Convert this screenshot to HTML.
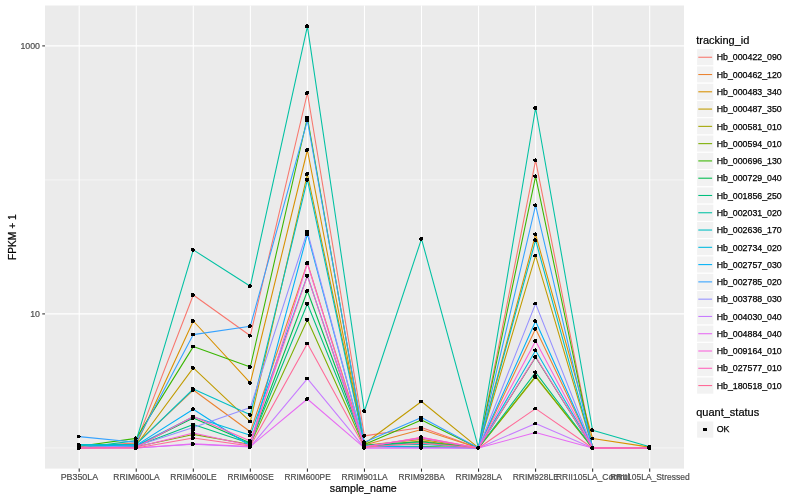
<!DOCTYPE html>
<html><head><meta charset="utf-8"><title>plot</title>
<style>html,body{margin:0;padding:0;background:#fff}svg{display:block}text{font-family:"Liberation Sans",sans-serif}</style></head><body>
<svg width="800" height="500" viewBox="0 0 800 500">
<rect x="0" y="0" width="800" height="500" fill="#fff"/>
<rect x="45" y="5.5" width="639" height="463.1" fill="#EBEBEB"/>
<line x1="45" x2="684" y1="179.9" y2="179.9" stroke="#fff" stroke-width="0.53"/>
<line x1="45" x2="684" y1="447.9" y2="447.9" stroke="#fff" stroke-width="0.53"/>
<line x1="45" x2="684" y1="45.9" y2="45.9" stroke="#fff" stroke-width="1.07"/>
<line x1="45" x2="684" y1="313.9" y2="313.9" stroke="#fff" stroke-width="1.07"/>
<line x1="79.20" x2="79.20" y1="5.5" y2="468.6" stroke="#fff" stroke-width="1.07"/>
<line x1="136.25" x2="136.25" y1="5.5" y2="468.6" stroke="#fff" stroke-width="1.07"/>
<line x1="193.30" x2="193.30" y1="5.5" y2="468.6" stroke="#fff" stroke-width="1.07"/>
<line x1="250.35" x2="250.35" y1="5.5" y2="468.6" stroke="#fff" stroke-width="1.07"/>
<line x1="307.40" x2="307.40" y1="5.5" y2="468.6" stroke="#fff" stroke-width="1.07"/>
<line x1="364.45" x2="364.45" y1="5.5" y2="468.6" stroke="#fff" stroke-width="1.07"/>
<line x1="421.50" x2="421.50" y1="5.5" y2="468.6" stroke="#fff" stroke-width="1.07"/>
<line x1="478.55" x2="478.55" y1="5.5" y2="468.6" stroke="#fff" stroke-width="1.07"/>
<line x1="535.60" x2="535.60" y1="5.5" y2="468.6" stroke="#fff" stroke-width="1.07"/>
<line x1="592.65" x2="592.65" y1="5.5" y2="468.6" stroke="#fff" stroke-width="1.07"/>
<line x1="649.70" x2="649.70" y1="5.5" y2="468.6" stroke="#fff" stroke-width="1.07"/>
<g fill="none" stroke-width="1.07" stroke-linejoin="round" stroke-linecap="butt">
<polyline points="79.2,446.8 136.2,442.9 193.3,295 250.3,335.7 307.4,93 364.4,435.9 421.5,427.5 478.5,447.95 535.6,160.3 592.6,447.95 649.7,447.95" stroke="#F8766D"/>
<polyline points="79.2,447.95 136.2,443.8 193.3,390 250.3,431.7 307.4,263 364.4,445 421.5,429.4 478.5,447.95 535.6,328.8 592.6,447.95 649.7,447.95" stroke="#EA8331"/>
<polyline points="79.2,447.95 136.2,444.8 193.3,321 250.3,382.9 307.4,150 364.4,445.3 421.5,439.4 478.5,447.95 535.6,234.4 592.6,438.5 649.7,447.1" stroke="#D89000"/>
<polyline points="79.2,447.95 136.2,445.2 193.3,367.9 250.3,421.6 307.4,174 364.4,443.8 421.5,401.5 478.5,447.95 535.6,255.6 592.6,447.95 649.7,447.95" stroke="#C09B00"/>
<polyline points="364.4,446.8 421.5,441 478.5,447.95 535.6,377 592.6,447.95 649.7,447.95" stroke="#A3A500"/>
<polyline points="79.2,447.95 136.2,446.8 193.3,434.4 250.3,444.5 307.4,319.8 364.4,446.8 421.5,446.25 478.5,447.95 535.6,376.2 592.6,447.95 649.7,447.95" stroke="#7CAE00"/>
<polyline points="79.2,446.2 136.2,438.4 193.3,346.6 250.3,367 307.4,117.5 364.4,444.4 421.5,420 478.5,447.95 535.6,176.4 592.6,447.95 649.7,447.95" stroke="#39B600"/>
<polyline points="79.2,447.95 136.2,446.3 193.3,418 250.3,443 307.4,291 364.4,445.3 421.5,441.8 478.5,447.95 535.6,357.3 592.6,447.95 649.7,447.95" stroke="#00BB4E"/>
<polyline points="79.2,447.95 136.2,446.3 193.3,424.5 250.3,443.5 307.4,303.8 364.4,445.6 421.5,442.5 478.5,447.95 535.6,372.4 592.6,447.95 649.7,447.95" stroke="#00BF7D"/>
<polyline points="79.2,447.95 136.2,440.6 193.3,249.9 250.3,286.2 307.4,26.3 364.4,411.25 421.5,238.8 478.5,447.95 535.6,108 592.6,430.25 649.7,446.8" stroke="#00C1A3"/>
<polyline points="79.2,444.6 136.2,444.4 193.3,389 250.3,414.8 307.4,179.7 364.4,445.8 421.5,444.2 478.5,447.95 535.6,240.2 592.6,447.95 649.7,447.95" stroke="#00BFC4"/>
<polyline points="79.2,445.2 136.2,445.8 193.3,416.8 250.3,435.2 307.4,275.6 364.4,446.5 421.5,447.2 478.5,447.95 535.6,350.4 592.6,447.95 649.7,447.95" stroke="#00BAE0"/>
<polyline points="79.2,447.95 136.2,445.4 193.3,409.3 250.3,446 307.4,234.1 364.4,446.2 421.5,447.0 478.5,447.95 535.6,321.2 592.6,447.95 649.7,447.95" stroke="#00B0F6"/>
<polyline points="79.2,436.6 136.2,442.2 193.3,334.6 250.3,326.2 307.4,120.3 364.4,442.3 421.5,417.5 478.5,447.95 535.6,205.4 592.6,447.95 649.7,447.95" stroke="#35A2FF"/>
<polyline points="79.2,447.2 136.2,446 193.3,427.5 250.3,407.6 307.4,231.4 364.4,446.5 421.5,438.1 478.5,447.95 535.6,303.6 592.6,447.95 649.7,447.95" stroke="#9590FF"/>
<polyline points="79.2,447.95 136.2,447.95 193.3,444.3 250.3,447 307.4,378.6 364.4,447.95 421.5,447.95 478.5,447.95 535.6,423.6 592.6,447.95 649.7,447.95" stroke="#C77CFF"/>
<polyline points="79.2,447.95 136.2,447.95 193.3,443.9 250.3,446.5 307.4,399 364.4,447.95 421.5,447.95 478.5,447.95 535.6,432.6 592.6,447.95 649.7,447.95" stroke="#E76BF3"/>
<polyline points="79.2,447.95 136.2,447.2 193.3,432.9 250.3,445.5 307.4,263.3 364.4,447 421.5,437.2 478.5,447.95 535.6,341 592.6,447.95 649.7,447.95" stroke="#FA62DB"/>
<polyline points="79.2,447.95 136.2,447.2 193.3,416.5 250.3,441 307.4,275.8 364.4,447 421.5,437.6 478.5,447.95 535.6,356.8 592.6,447.95 649.7,447.95" stroke="#FF62BC"/>
<polyline points="79.2,447.95 136.2,447.95 193.3,438 250.3,446 307.4,343.6 364.4,447.2 421.5,443.1 478.5,447.95 535.6,408.6 592.6,447.95 649.7,447.95" stroke="#FF6A98"/>
</g>
<g fill="#000" shape-rendering="crispEdges">
<circle cx="78.8" cy="446.8" r="2"/>
<circle cx="135.8" cy="442.9" r="2"/>
<circle cx="192.9" cy="295" r="2"/>
<circle cx="249.9" cy="335.7" r="2"/>
<circle cx="307.0" cy="93" r="2"/>
<circle cx="364.1" cy="435.9" r="2"/>
<circle cx="421.1" cy="427.5" r="2"/>
<circle cx="478.1" cy="447.95" r="2"/>
<circle cx="535.2" cy="160.3" r="2"/>
<circle cx="592.2" cy="447.95" r="2"/>
<circle cx="649.3" cy="447.95" r="2"/>
<circle cx="78.8" cy="447.95" r="2"/>
<circle cx="135.8" cy="443.8" r="2"/>
<circle cx="192.9" cy="390" r="2"/>
<circle cx="249.9" cy="431.7" r="2"/>
<circle cx="307.0" cy="263" r="2"/>
<circle cx="364.1" cy="445" r="2"/>
<circle cx="421.1" cy="429.4" r="2"/>
<circle cx="478.1" cy="447.95" r="2"/>
<circle cx="535.2" cy="328.8" r="2"/>
<circle cx="592.2" cy="447.95" r="2"/>
<circle cx="649.3" cy="447.95" r="2"/>
<circle cx="78.8" cy="447.95" r="2"/>
<circle cx="135.8" cy="444.8" r="2"/>
<circle cx="192.9" cy="321" r="2"/>
<circle cx="249.9" cy="382.9" r="2"/>
<circle cx="307.0" cy="150" r="2"/>
<circle cx="364.1" cy="445.3" r="2"/>
<circle cx="421.1" cy="439.4" r="2"/>
<circle cx="478.1" cy="447.95" r="2"/>
<circle cx="535.2" cy="234.4" r="2"/>
<circle cx="592.2" cy="438.5" r="2"/>
<circle cx="649.3" cy="447.1" r="2"/>
<circle cx="78.8" cy="447.95" r="2"/>
<circle cx="135.8" cy="445.2" r="2"/>
<circle cx="192.9" cy="367.9" r="2"/>
<circle cx="249.9" cy="421.6" r="2"/>
<circle cx="307.0" cy="174" r="2"/>
<circle cx="364.1" cy="443.8" r="2"/>
<circle cx="421.1" cy="401.5" r="2"/>
<circle cx="478.1" cy="447.95" r="2"/>
<circle cx="535.2" cy="255.6" r="2"/>
<circle cx="592.2" cy="447.95" r="2"/>
<circle cx="649.3" cy="447.95" r="2"/>
<circle cx="78.8" cy="447.95" r="2"/>
<circle cx="135.8" cy="446.8" r="2"/>
<circle cx="192.9" cy="434.8" r="2"/>
<circle cx="249.9" cy="445" r="2"/>
<circle cx="307.0" cy="319.8" r="2"/>
<circle cx="364.1" cy="446.8" r="2"/>
<circle cx="421.1" cy="441" r="2"/>
<circle cx="478.1" cy="447.95" r="2"/>
<circle cx="535.2" cy="377" r="2"/>
<circle cx="592.2" cy="447.95" r="2"/>
<circle cx="649.3" cy="447.95" r="2"/>
<circle cx="78.8" cy="447.95" r="2"/>
<circle cx="135.8" cy="446.8" r="2"/>
<circle cx="192.9" cy="434.4" r="2"/>
<circle cx="249.9" cy="444.5" r="2"/>
<circle cx="307.0" cy="319.8" r="2"/>
<circle cx="364.1" cy="446.8" r="2"/>
<circle cx="421.1" cy="446.25" r="2"/>
<circle cx="478.1" cy="447.95" r="2"/>
<circle cx="535.2" cy="376.2" r="2"/>
<circle cx="592.2" cy="447.95" r="2"/>
<circle cx="649.3" cy="447.95" r="2"/>
<circle cx="78.8" cy="446.2" r="2"/>
<circle cx="135.8" cy="438.4" r="2"/>
<circle cx="192.9" cy="346.6" r="2"/>
<circle cx="249.9" cy="367" r="2"/>
<circle cx="307.0" cy="117.5" r="2"/>
<circle cx="364.1" cy="444.4" r="2"/>
<circle cx="421.1" cy="420" r="2"/>
<circle cx="478.1" cy="447.95" r="2"/>
<circle cx="535.2" cy="176.4" r="2"/>
<circle cx="592.2" cy="447.95" r="2"/>
<circle cx="649.3" cy="447.95" r="2"/>
<circle cx="78.8" cy="447.95" r="2"/>
<circle cx="135.8" cy="446.3" r="2"/>
<circle cx="192.9" cy="418" r="2"/>
<circle cx="249.9" cy="443" r="2"/>
<circle cx="307.0" cy="291" r="2"/>
<circle cx="364.1" cy="445.3" r="2"/>
<circle cx="421.1" cy="441.8" r="2"/>
<circle cx="478.1" cy="447.95" r="2"/>
<circle cx="535.2" cy="357.3" r="2"/>
<circle cx="592.2" cy="447.95" r="2"/>
<circle cx="649.3" cy="447.95" r="2"/>
<circle cx="78.8" cy="447.95" r="2"/>
<circle cx="135.8" cy="446.3" r="2"/>
<circle cx="192.9" cy="424.5" r="2"/>
<circle cx="249.9" cy="443.5" r="2"/>
<circle cx="307.0" cy="303.8" r="2"/>
<circle cx="364.1" cy="445.6" r="2"/>
<circle cx="421.1" cy="442.5" r="2"/>
<circle cx="478.1" cy="447.95" r="2"/>
<circle cx="535.2" cy="372.4" r="2"/>
<circle cx="592.2" cy="447.95" r="2"/>
<circle cx="649.3" cy="447.95" r="2"/>
<circle cx="78.8" cy="447.95" r="2"/>
<circle cx="135.8" cy="440.6" r="2"/>
<circle cx="192.9" cy="249.9" r="2"/>
<circle cx="249.9" cy="286.2" r="2"/>
<circle cx="307.0" cy="26.3" r="2"/>
<circle cx="364.1" cy="411.25" r="2"/>
<circle cx="421.1" cy="238.8" r="2"/>
<circle cx="478.1" cy="447.95" r="2"/>
<circle cx="535.2" cy="108" r="2"/>
<circle cx="592.2" cy="430.25" r="2"/>
<circle cx="649.3" cy="446.8" r="2"/>
<circle cx="78.8" cy="444.6" r="2"/>
<circle cx="135.8" cy="444.4" r="2"/>
<circle cx="192.9" cy="389" r="2"/>
<circle cx="249.9" cy="414.8" r="2"/>
<circle cx="307.0" cy="179.7" r="2"/>
<circle cx="364.1" cy="445.8" r="2"/>
<circle cx="421.1" cy="444.2" r="2"/>
<circle cx="478.1" cy="447.95" r="2"/>
<circle cx="535.2" cy="240.2" r="2"/>
<circle cx="592.2" cy="447.95" r="2"/>
<circle cx="649.3" cy="447.95" r="2"/>
<circle cx="78.8" cy="445.2" r="2"/>
<circle cx="135.8" cy="445.8" r="2"/>
<circle cx="192.9" cy="416.8" r="2"/>
<circle cx="249.9" cy="435.2" r="2"/>
<circle cx="307.0" cy="275.6" r="2"/>
<circle cx="364.1" cy="446.5" r="2"/>
<circle cx="421.1" cy="447.2" r="2"/>
<circle cx="478.1" cy="447.95" r="2"/>
<circle cx="535.2" cy="350.4" r="2"/>
<circle cx="592.2" cy="447.95" r="2"/>
<circle cx="649.3" cy="447.95" r="2"/>
<circle cx="78.8" cy="447.95" r="2"/>
<circle cx="135.8" cy="445.4" r="2"/>
<circle cx="192.9" cy="409.3" r="2"/>
<circle cx="249.9" cy="446" r="2"/>
<circle cx="307.0" cy="234.1" r="2"/>
<circle cx="364.1" cy="446.2" r="2"/>
<circle cx="421.1" cy="447.0" r="2"/>
<circle cx="478.1" cy="447.95" r="2"/>
<circle cx="535.2" cy="321.2" r="2"/>
<circle cx="592.2" cy="447.95" r="2"/>
<circle cx="649.3" cy="447.95" r="2"/>
<circle cx="78.8" cy="436.6" r="2"/>
<circle cx="135.8" cy="442.2" r="2"/>
<circle cx="192.9" cy="334.6" r="2"/>
<circle cx="249.9" cy="326.2" r="2"/>
<circle cx="307.0" cy="120.3" r="2"/>
<circle cx="364.1" cy="442.3" r="2"/>
<circle cx="421.1" cy="417.5" r="2"/>
<circle cx="478.1" cy="447.95" r="2"/>
<circle cx="535.2" cy="205.4" r="2"/>
<circle cx="592.2" cy="447.95" r="2"/>
<circle cx="649.3" cy="447.95" r="2"/>
<circle cx="78.8" cy="447.2" r="2"/>
<circle cx="135.8" cy="446" r="2"/>
<circle cx="192.9" cy="427.5" r="2"/>
<circle cx="249.9" cy="407.6" r="2"/>
<circle cx="307.0" cy="231.4" r="2"/>
<circle cx="364.1" cy="446.5" r="2"/>
<circle cx="421.1" cy="438.1" r="2"/>
<circle cx="478.1" cy="447.95" r="2"/>
<circle cx="535.2" cy="303.6" r="2"/>
<circle cx="592.2" cy="447.95" r="2"/>
<circle cx="649.3" cy="447.95" r="2"/>
<circle cx="78.8" cy="447.95" r="2"/>
<circle cx="135.8" cy="447.95" r="2"/>
<circle cx="192.9" cy="444.3" r="2"/>
<circle cx="249.9" cy="447" r="2"/>
<circle cx="307.0" cy="378.6" r="2"/>
<circle cx="364.1" cy="447.95" r="2"/>
<circle cx="421.1" cy="447.95" r="2"/>
<circle cx="478.1" cy="447.95" r="2"/>
<circle cx="535.2" cy="423.6" r="2"/>
<circle cx="592.2" cy="447.95" r="2"/>
<circle cx="649.3" cy="447.95" r="2"/>
<circle cx="78.8" cy="447.95" r="2"/>
<circle cx="135.8" cy="447.95" r="2"/>
<circle cx="192.9" cy="443.9" r="2"/>
<circle cx="249.9" cy="446.5" r="2"/>
<circle cx="307.0" cy="399" r="2"/>
<circle cx="364.1" cy="447.95" r="2"/>
<circle cx="421.1" cy="447.95" r="2"/>
<circle cx="478.1" cy="447.95" r="2"/>
<circle cx="535.2" cy="432.6" r="2"/>
<circle cx="592.2" cy="447.95" r="2"/>
<circle cx="649.3" cy="447.95" r="2"/>
<circle cx="78.8" cy="447.95" r="2"/>
<circle cx="135.8" cy="447.2" r="2"/>
<circle cx="192.9" cy="432.9" r="2"/>
<circle cx="249.9" cy="445.5" r="2"/>
<circle cx="307.0" cy="263.3" r="2"/>
<circle cx="364.1" cy="447" r="2"/>
<circle cx="421.1" cy="437.2" r="2"/>
<circle cx="478.1" cy="447.95" r="2"/>
<circle cx="535.2" cy="341" r="2"/>
<circle cx="592.2" cy="447.95" r="2"/>
<circle cx="649.3" cy="447.95" r="2"/>
<circle cx="78.8" cy="447.95" r="2"/>
<circle cx="135.8" cy="447.2" r="2"/>
<circle cx="192.9" cy="416.5" r="2"/>
<circle cx="249.9" cy="441" r="2"/>
<circle cx="307.0" cy="275.8" r="2"/>
<circle cx="364.1" cy="447" r="2"/>
<circle cx="421.1" cy="437.6" r="2"/>
<circle cx="478.1" cy="447.95" r="2"/>
<circle cx="535.2" cy="356.8" r="2"/>
<circle cx="592.2" cy="447.95" r="2"/>
<circle cx="649.3" cy="447.95" r="2"/>
<circle cx="78.8" cy="447.95" r="2"/>
<circle cx="135.8" cy="447.95" r="2"/>
<circle cx="192.9" cy="438" r="2"/>
<circle cx="249.9" cy="446" r="2"/>
<circle cx="307.0" cy="343.6" r="2"/>
<circle cx="364.1" cy="447.2" r="2"/>
<circle cx="421.1" cy="443.1" r="2"/>
<circle cx="478.1" cy="447.95" r="2"/>
<circle cx="535.2" cy="408.6" r="2"/>
<circle cx="592.2" cy="447.95" r="2"/>
<circle cx="649.3" cy="447.95" r="2"/>
<circle cx="192.9" cy="430.3" r="2"/>
</g>
<g stroke="#333" stroke-width="1.07">
<line x1="79.20" x2="79.20" y1="468.6" y2="471.70000000000005"/>
<line x1="136.25" x2="136.25" y1="468.6" y2="471.70000000000005"/>
<line x1="193.30" x2="193.30" y1="468.6" y2="471.70000000000005"/>
<line x1="250.35" x2="250.35" y1="468.6" y2="471.70000000000005"/>
<line x1="307.40" x2="307.40" y1="468.6" y2="471.70000000000005"/>
<line x1="364.45" x2="364.45" y1="468.6" y2="471.70000000000005"/>
<line x1="421.50" x2="421.50" y1="468.6" y2="471.70000000000005"/>
<line x1="478.55" x2="478.55" y1="468.6" y2="471.70000000000005"/>
<line x1="535.60" x2="535.60" y1="468.6" y2="471.70000000000005"/>
<line x1="592.65" x2="592.65" y1="468.6" y2="471.70000000000005"/>
<line x1="649.70" x2="649.70" y1="468.6" y2="471.70000000000005"/>
<line x1="42.25" x2="45" y1="45.9" y2="45.9"/>
<line x1="42.25" x2="45" y1="313.9" y2="313.9"/>
</g>
<g font-size="8.8" fill="#4D4D4D" stroke="#4D4D4D" stroke-width="0.2">
<text x="60.65" y="480.4" textLength="37.5" lengthAdjust="spacingAndGlyphs">PB350LA</text>
<text x="113.30" y="480.4" textLength="46.3" lengthAdjust="spacingAndGlyphs">RRIM600LA</text>
<text x="170.35" y="480.4" textLength="46.3" lengthAdjust="spacingAndGlyphs">RRIM600LE</text>
<text x="227.40" y="480.4" textLength="46.3" lengthAdjust="spacingAndGlyphs">RRIM600SE</text>
<text x="284.45" y="480.4" textLength="46.3" lengthAdjust="spacingAndGlyphs">RRIM600PE</text>
<text x="341.50" y="480.4" textLength="46.3" lengthAdjust="spacingAndGlyphs">RRIM901LA</text>
<text x="398.55" y="480.4" textLength="46.3" lengthAdjust="spacingAndGlyphs">RRIM928BA</text>
<text x="455.60" y="480.4" textLength="46.3" lengthAdjust="spacingAndGlyphs">RRIM928LA</text>
<text x="512.65" y="480.4" textLength="46.3" lengthAdjust="spacingAndGlyphs">RRIM928LE</text>
<text x="555.95" y="480.4" textLength="73.8" lengthAdjust="spacingAndGlyphs">RRII105LA_Control</text>
<text x="610.20" y="480.4" textLength="79.4" lengthAdjust="spacingAndGlyphs">RRII105LA_Stressed</text>
<text x="40" y="49.1" text-anchor="end">1000</text>
<text x="40" y="317.1" text-anchor="end">10</text>
</g>
<g font-size="11" fill="#000" stroke="#000" stroke-width="0.2">
<text transform="translate(363.3,491.6) scale(0.97,1)" text-anchor="middle">sample_name</text>
<text transform="translate(16,237.2) rotate(-90) scale(0.927,1)" text-anchor="middle">FPKM + 1</text>
<text x="696.2" y="44">tracking_id</text>
<text x="696.2" y="416">quant_status</text>
</g>
<rect x="696.6" y="48.60" width="17.28" height="17.28" fill="#F2F2F2" stroke="#fff" stroke-width="1.07"/>
<line x1="698.3" x2="712.1" y1="57.24" y2="57.24" stroke="#F8766D" stroke-width="1.07"/>
<text x="716.7" y="60.44" font-size="8.8" fill="#000" stroke="#000" stroke-width="0.25">Hb_000422_090</text>
<rect x="696.6" y="65.88" width="17.28" height="17.28" fill="#F2F2F2" stroke="#fff" stroke-width="1.07"/>
<line x1="698.3" x2="712.1" y1="74.52" y2="74.52" stroke="#EA8331" stroke-width="1.07"/>
<text x="716.7" y="77.72" font-size="8.8" fill="#000" stroke="#000" stroke-width="0.25">Hb_000462_120</text>
<rect x="696.6" y="83.16" width="17.28" height="17.28" fill="#F2F2F2" stroke="#fff" stroke-width="1.07"/>
<line x1="698.3" x2="712.1" y1="91.80" y2="91.80" stroke="#D89000" stroke-width="1.07"/>
<text x="716.7" y="95.00" font-size="8.8" fill="#000" stroke="#000" stroke-width="0.25">Hb_000483_340</text>
<rect x="696.6" y="100.44" width="17.28" height="17.28" fill="#F2F2F2" stroke="#fff" stroke-width="1.07"/>
<line x1="698.3" x2="712.1" y1="109.08" y2="109.08" stroke="#C09B00" stroke-width="1.07"/>
<text x="716.7" y="112.28" font-size="8.8" fill="#000" stroke="#000" stroke-width="0.25">Hb_000487_350</text>
<rect x="696.6" y="117.72" width="17.28" height="17.28" fill="#F2F2F2" stroke="#fff" stroke-width="1.07"/>
<line x1="698.3" x2="712.1" y1="126.36" y2="126.36" stroke="#A3A500" stroke-width="1.07"/>
<text x="716.7" y="129.56" font-size="8.8" fill="#000" stroke="#000" stroke-width="0.25">Hb_000581_010</text>
<rect x="696.6" y="135.00" width="17.28" height="17.28" fill="#F2F2F2" stroke="#fff" stroke-width="1.07"/>
<line x1="698.3" x2="712.1" y1="143.64" y2="143.64" stroke="#7CAE00" stroke-width="1.07"/>
<text x="716.7" y="146.84" font-size="8.8" fill="#000" stroke="#000" stroke-width="0.25">Hb_000594_010</text>
<rect x="696.6" y="152.28" width="17.28" height="17.28" fill="#F2F2F2" stroke="#fff" stroke-width="1.07"/>
<line x1="698.3" x2="712.1" y1="160.92" y2="160.92" stroke="#39B600" stroke-width="1.07"/>
<text x="716.7" y="164.12" font-size="8.8" fill="#000" stroke="#000" stroke-width="0.25">Hb_000696_130</text>
<rect x="696.6" y="169.56" width="17.28" height="17.28" fill="#F2F2F2" stroke="#fff" stroke-width="1.07"/>
<line x1="698.3" x2="712.1" y1="178.20" y2="178.20" stroke="#00BB4E" stroke-width="1.07"/>
<text x="716.7" y="181.40" font-size="8.8" fill="#000" stroke="#000" stroke-width="0.25">Hb_000729_040</text>
<rect x="696.6" y="186.84" width="17.28" height="17.28" fill="#F2F2F2" stroke="#fff" stroke-width="1.07"/>
<line x1="698.3" x2="712.1" y1="195.48" y2="195.48" stroke="#00BF7D" stroke-width="1.07"/>
<text x="716.7" y="198.68" font-size="8.8" fill="#000" stroke="#000" stroke-width="0.25">Hb_001856_250</text>
<rect x="696.6" y="204.12" width="17.28" height="17.28" fill="#F2F2F2" stroke="#fff" stroke-width="1.07"/>
<line x1="698.3" x2="712.1" y1="212.76" y2="212.76" stroke="#00C1A3" stroke-width="1.07"/>
<text x="716.7" y="215.96" font-size="8.8" fill="#000" stroke="#000" stroke-width="0.25">Hb_002031_020</text>
<rect x="696.6" y="221.40" width="17.28" height="17.28" fill="#F2F2F2" stroke="#fff" stroke-width="1.07"/>
<line x1="698.3" x2="712.1" y1="230.04" y2="230.04" stroke="#00BFC4" stroke-width="1.07"/>
<text x="716.7" y="233.24" font-size="8.8" fill="#000" stroke="#000" stroke-width="0.25">Hb_002636_170</text>
<rect x="696.6" y="238.68" width="17.28" height="17.28" fill="#F2F2F2" stroke="#fff" stroke-width="1.07"/>
<line x1="698.3" x2="712.1" y1="247.32" y2="247.32" stroke="#00BAE0" stroke-width="1.07"/>
<text x="716.7" y="250.52" font-size="8.8" fill="#000" stroke="#000" stroke-width="0.25">Hb_002734_020</text>
<rect x="696.6" y="255.96" width="17.28" height="17.28" fill="#F2F2F2" stroke="#fff" stroke-width="1.07"/>
<line x1="698.3" x2="712.1" y1="264.60" y2="264.60" stroke="#00B0F6" stroke-width="1.07"/>
<text x="716.7" y="267.80" font-size="8.8" fill="#000" stroke="#000" stroke-width="0.25">Hb_002757_030</text>
<rect x="696.6" y="273.24" width="17.28" height="17.28" fill="#F2F2F2" stroke="#fff" stroke-width="1.07"/>
<line x1="698.3" x2="712.1" y1="281.88" y2="281.88" stroke="#35A2FF" stroke-width="1.07"/>
<text x="716.7" y="285.08" font-size="8.8" fill="#000" stroke="#000" stroke-width="0.25">Hb_002785_020</text>
<rect x="696.6" y="290.52" width="17.28" height="17.28" fill="#F2F2F2" stroke="#fff" stroke-width="1.07"/>
<line x1="698.3" x2="712.1" y1="299.16" y2="299.16" stroke="#9590FF" stroke-width="1.07"/>
<text x="716.7" y="302.36" font-size="8.8" fill="#000" stroke="#000" stroke-width="0.25">Hb_003788_030</text>
<rect x="696.6" y="307.80" width="17.28" height="17.28" fill="#F2F2F2" stroke="#fff" stroke-width="1.07"/>
<line x1="698.3" x2="712.1" y1="316.44" y2="316.44" stroke="#C77CFF" stroke-width="1.07"/>
<text x="716.7" y="319.64" font-size="8.8" fill="#000" stroke="#000" stroke-width="0.25">Hb_004030_040</text>
<rect x="696.6" y="325.08" width="17.28" height="17.28" fill="#F2F2F2" stroke="#fff" stroke-width="1.07"/>
<line x1="698.3" x2="712.1" y1="333.72" y2="333.72" stroke="#E76BF3" stroke-width="1.07"/>
<text x="716.7" y="336.92" font-size="8.8" fill="#000" stroke="#000" stroke-width="0.25">Hb_004884_040</text>
<rect x="696.6" y="342.36" width="17.28" height="17.28" fill="#F2F2F2" stroke="#fff" stroke-width="1.07"/>
<line x1="698.3" x2="712.1" y1="351.00" y2="351.00" stroke="#FA62DB" stroke-width="1.07"/>
<text x="716.7" y="354.20" font-size="8.8" fill="#000" stroke="#000" stroke-width="0.25">Hb_009164_010</text>
<rect x="696.6" y="359.64" width="17.28" height="17.28" fill="#F2F2F2" stroke="#fff" stroke-width="1.07"/>
<line x1="698.3" x2="712.1" y1="368.28" y2="368.28" stroke="#FF62BC" stroke-width="1.07"/>
<text x="716.7" y="371.48" font-size="8.8" fill="#000" stroke="#000" stroke-width="0.25">Hb_027577_010</text>
<rect x="696.6" y="376.92" width="17.28" height="17.28" fill="#F2F2F2" stroke="#fff" stroke-width="1.07"/>
<line x1="698.3" x2="712.1" y1="385.56" y2="385.56" stroke="#FF6A98" stroke-width="1.07"/>
<text x="716.7" y="388.76" font-size="8.8" fill="#000" stroke="#000" stroke-width="0.25">Hb_180518_010</text>
<rect x="696.6" y="420.9" width="17.28" height="17.28" fill="#F2F2F2" stroke="#fff" stroke-width="1.07"/>
<circle cx="704.9" cy="429.4" r="2" fill="#000" shape-rendering="crispEdges"/>
<text x="716.7" y="432.1" font-size="8.8" fill="#000" stroke="#000" stroke-width="0.25">OK</text>
</svg></body></html>
